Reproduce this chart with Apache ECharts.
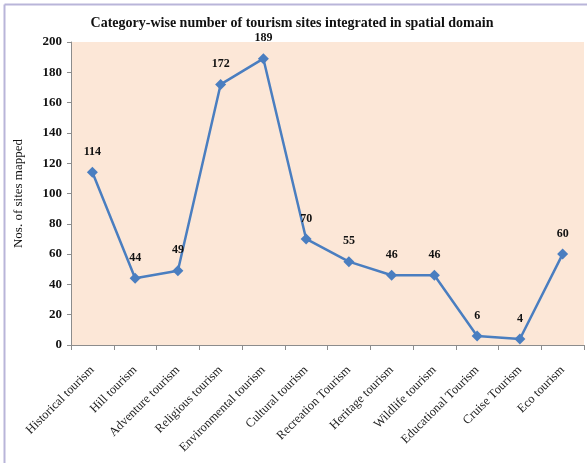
<!DOCTYPE html>
<html>
<head>
<meta charset="utf-8">
<script src="https://cdn.jsdelivr.net/npm/echarts@6/dist/echarts.min.js"></script>
<style>
  html, body { margin: 0; padding: 0; background: #ffffff; }
  #chart { width: 587px; height: 465px; }
</style>
</head>
<body>
<div id="chart"></div>
<script>
// Tourism categories and the number of sites mapped in each
const categories = [
  'Historical tourism', 'Hill tourism', 'Adventure tourism', 'Religious tourism',
  'Environmental tourism', 'Cultural tourism', 'Recreation Tourism', 'Heritage tourism',
  'Wildlife tourism', 'Educational Tourism', 'Cruise Tourism', 'Eco tourism'
];
const sitesMapped = [114, 44, 49, 172, 189, 70, 55, 46, 46, 6, 4, 60];
const yTicks = { min: 0, max: 200, interval: 20 };

const serif = '"Liberation Serif", "DejaVu Serif", serif';
const chart = echarts.init(document.getElementById('chart'), null, { renderer: 'canvas' });

chart.setOption({
  animation: false,
  title: {
    text: 'Category-wise number of tourism sites integrated in spatial domain',
    left: 287, top: 11, textAlign: 'center',
    textStyle: { fontFamily: serif, fontSize: 14, fontWeight: 'bold', color: '#111' }
  },
  graphic: [
    { type: 'line', shape: { x1: 4.5, y1: 4.5, x2: 587, y2: 4.5 }, style: { stroke: '#b9b5d9', lineWidth: 2 } },
    { type: 'line', shape: { x1: 4.5, y1: 4.5, x2: 4.5, y2: 463 }, style: { stroke: '#b9b5d9', lineWidth: 2 } }
  ],
  grid: {
    left: 71, right: 3, top: 42, bottom: 120,
    show: true, backgroundColor: '#fce7d7', borderWidth: 0
  },
  xAxis: {
    type: 'category',
    data: categories,
    boundaryGap: true,
    axisLine: { lineStyle: { color: '#8c8c8c', width: 1 } },
    axisTick: { show: true, alignWithLabel: false, length: 5, lineStyle: { color: '#8c8c8c' } },
    axisLabel: {
      interval: 0, rotate: 45, margin: 23,
      fontFamily: serif, fontSize: 12.5, color: '#222'
    },
    splitLine: { show: false }
  },
  yAxis: {
    type: 'value',
    min: yTicks.min, max: yTicks.max, interval: yTicks.interval,
    name: 'Nos. of sites mapped',
    nameLocation: 'middle', nameGap: 46, nameRotate: 90,
    nameTextStyle: { fontFamily: serif, fontSize: 13, color: '#111' },
    axisLine: { show: true, lineStyle: { color: '#8c8c8c', width: 1 } },
    axisTick: { show: true, length: 4, lineStyle: { color: '#8c8c8c' } },
    axisLabel: { fontFamily: serif, fontSize: 13, fontWeight: 'bold', color: '#111', margin: 9 },
    splitLine: { show: false }
  },
  series: [{
    type: 'line',
    data: sitesMapped,
    symbol: 'diamond',
    symbolSize: 11,
    itemStyle: { color: '#4a7ec0' },
    lineStyle: { color: '#4a7ec0', width: 2.5 },
    label: {
      show: true, position: 'top', distance: 9,
      fontFamily: serif, fontSize: 12, fontWeight: 'bold', color: '#111'
    }
  }]
});
</script>
</body>
</html>
